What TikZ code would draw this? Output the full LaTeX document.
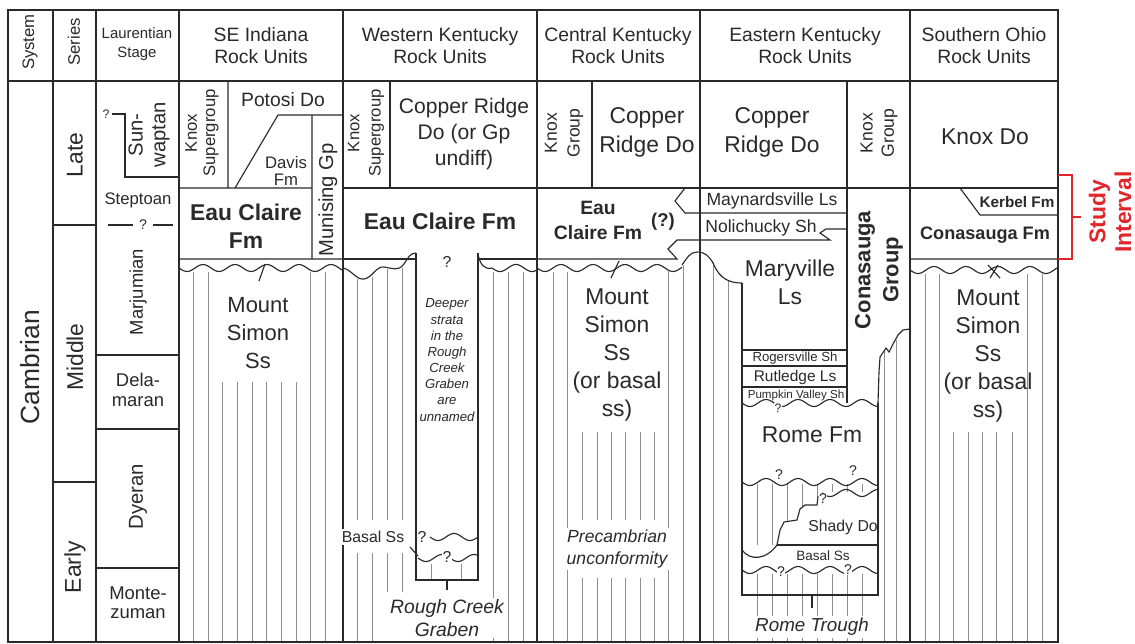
\documentclass[tikz,border=0pt]{standalone}
\usepackage{fontspec}
\setmainfont{Liberation Sans}
\usepackage{xcolor}
\definecolor{ink}{HTML}{2A2A2A}
\definecolor{sandgray}{HTML}{8E8E8E}
\definecolor{studyred}{HTML}{E0262B}
\newcommand{\fs}[2]{\fontsize{#1}{#2}\selectfont}
\newcommand{\wavyline}[3]{\draw[wav] plot[domain=#1:#2,samples=70,smooth] (\x,{#3+3.5*sin((\x-#1)*11.25)});}
\tikzset{
 frame/.style={line width=1.4pt,draw=ink},
 unit/.style={line width=0.65pt,draw=ink},
 wav/.style={line width=0.65pt,draw=ink},
 sand/.style={line width=0.5pt,draw=sandgray},
 lbl/.style={inner sep=1pt,align=center,text=ink},
 qm/.style={inner sep=0.3pt,fill=white,text=ink,font=\fs{8}{9}},
}

\begin{document}
\begin{tikzpicture}[x=0.02cm,y=-0.02cm]
\useasboundingbox (0,0) rectangle (1135,643);
\fill[white] (0,0) rectangle (1135,643);

% sandstone pattern
\foreach \x in {193,208,310,325} \draw[sand](\x,272)--(\x,642);
\foreach \x in {222,237,252,266,281,296} \draw[sand](\x,382)--(\x,642);
\foreach \x/\y in {357/279,372/277,387/269,402/268} \draw[sand](\x,\y)--(\x,520);
\foreach \x in {357,372} \draw[sand](\x,553)--(\x,642);
\foreach \x in {387,402} \draw[sand](\x,553)--(\x,592);
\foreach \x in {431,461} \draw[sand](\x,564)--(\x,580);
\foreach \x in {493,508,523} \draw[sand](\x,272)--(\x,642);
\foreach \x/\y in {553/272,567/272,668/271,683/265} \draw[sand](\x,\y)--(\x,642);
\foreach \x in {582,597,611,625,640,654} {\draw[sand](\x,432)--(\x,520);\draw[sand](\x,578)--(\x,642);}
\foreach \x/\y in {713/262,728/281,884/350,896/340} \draw[sand](\x,\y)--(\x,642);
\foreach \x in {757,772,...,862} \draw[sand](\x,574)--(\x,642);
\foreach \x/\y in {757/545,772/545,787/521,802/507,817/496,832/492,847/492,862/492} \draw[sand](\x,484)--(\x,\y);
\foreach \x in {925,939,1027,1042} \draw[sand](\x,274)--(\x,642);
\foreach \x in {953,968,982,996,1012} \draw[sand](\x,432)--(\x,642);

% frame and columns
\draw[frame](8,10) rectangle (1058,642);
\draw[frame](8,81)--(1058,81);
\foreach \x in {53,96,179,343,537,700,910} \draw[frame](\x,10)--(\x,642);

% time scale
\draw[unit](53,225)--(96,225) (53,482)--(96,482);
\draw[unit](96,355)--(179,355) (96,429)--(179,429) (96,568)--(179,568);
\draw[unit](112,114)--(125,114)--(125,177)--(179,177);
\draw[unit](108,225)--(133,225) (153,225)--(173,225);

% SE Indiana
\draw[unit](228,81)--(228,188) (278,115)--(343,115) (278,115)--(235,188) (179,188)--(312,188) (312,115)--(312,259) (179,259)--(343,259);
\wavyline{179}{343}{268}
\draw[unit](259,281)--(265,264);

% Western Kentucky
\draw[unit](390,81)--(390,188) (343,188)--(1058,188) (343,259)--(416,259) (478,259)--(537,259) (416,253)--(416,580) (478,253)--(478,580);
\draw[wav](343,268) .. controls (352,270) and (356,280) .. (364,279) .. controls (372,278) and (376,266) .. (384,267) .. controls (392,268) and (398,272) .. (404,264) .. controls (408,258) and (410,253) .. (416,253);
\draw[wav](478,254) .. controls (480,264) and (484,270) .. (492,268);
\wavyline{492}{537}{268}
\wavyline{430}{478}{537}
\draw[wav](410,547)--(418,556);
\wavyline{418}{478}{558}
\draw[unit](416,572)--(416,580)--(478,580)--(478,572) (447,580)--(447,590);

% Central Kentucky
\draw[unit](592,81)--(592,188);
\draw[unit](685,188)--(675,201)--(685,213)--(847,213);
\draw[unit](537,259)--(677,259)--(668,249)--(677,240)--(830,240)--(820,233)--(826,229)--(847,229);
\wavyline{537}{682}{268}
\draw[wav](682,265) .. controls (687,258) and (690,252) .. (697,252) .. controls (705,252) and (709,256) .. (713,263) .. controls (718,274) and (724,283) .. (742,283);
\draw[unit](611,278)--(619,261);

% Eastern Kentucky
\draw[unit](742,283)--(742,595) (847,81)--(847,403);
\draw[unit](742,350)--(847,350) (742,366)--(847,366) (742,387)--(847,387);
\wavyline{742}{878}{403}
\draw[unit](878,403)--(878,595);
\draw[unit](878,403)--(879,372)--(880,357)--(886,348)--(889,352)--(893,344)--(898,335)--(903,330)--(910,329);
\wavyline{742}{878}{482}
\draw[unit](777,545)--(780,530)--(784,522)--(797,520)--(800,509)--(805,505)--(817,505)--(818,496);
\wavyline{822}{878}{493}
\draw[unit](777,545)--(878,545);
\draw[wav](742,550) .. controls (750,561) and (766,560) .. (777,545);
\wavyline{742}{878}{570}
\draw[unit](742,582)--(742,595)--(878,595)--(878,582) (812,595)--(812,608);

% Southern Ohio
\draw[unit](910,259)--(1058,259) (960,188)--(980,215)--(1058,215);
\wavyline{910}{1058}{270}
\draw[unit](988,265)--(1000,278) (990,278)--(998,265);

% study interval
\draw[studyred,line width=1.1pt](1058,175)--(1072,175)--(1072,259)--(1058,259) (1072,217)--(1081,217);
\node[lbl,rotate=90,text=studyred,font=\fs{13}{14.7}\bfseries] (study) at (1110,212) {Study\\Interval};

% headers
\node[lbl,rotate=90,font=\fs{9.5}{10}] (hsys) at (30,42) {System};
\node[lbl,rotate=90,font=\fs{9.5}{10}] (hser) at (74,42) {Series};
\node[lbl,font=\fs{8.5}{10.8}] (hstage) at (137,44) {Laurentian\\Stage};
\node[lbl,font=\fs{11}{12.5}] (hsei) at (261,46) {SE Indiana\\Rock Units};
\node[lbl,font=\fs{11}{12.5}] (hwky) at (440,46) {Western Kentucky\\Rock Units};
\node[lbl,font=\fs{11}{12.5}] (hcky) at (618,46) {Central Kentucky\\Rock Units};
\node[lbl,font=\fs{11}{12.5}] (heky) at (805,46) {Eastern Kentucky\\Rock Units};
\node[lbl,font=\fs{11}{12.5}] (hsoh) at (984,46) {Southern Ohio\\Rock Units};

% system, series, stages
\node[lbl,rotate=90,font=\fs{15}{17}] (sysCam) at (30,367) {Cambrian};
\node[lbl,rotate=90,font=\fs{13}{15}] (serLate) at (75,155) {Late};
\node[lbl,rotate=90,font=\fs{13}{15}] (serMid) at (75,357) {Middle};
\node[lbl,rotate=90,font=\fs{13}{15}] (serEarly) at (75,567) {Early};
\node[qm,font=\fs{7}{8}] (qSun) at (106,114) {?};
\node[lbl,rotate=90,font=\fs{11.5}{13}] (stSun) at (149,135) {Sun-\\waptan};
\node[lbl,font=\fs{9.5}{11}] (stStep) at (138,200) {Steptoan};
\node[qm] (qStep) at (143,225) {?};
\node[lbl,rotate=90,font=\fs{10.5}{12}] (stMarj) at (138,292) {Marjumian};
\node[lbl,font=\fs{10.5}{11.5}] (stDela) at (138,390) {Dela-\\maran};
\node[lbl,rotate=90,font=\fs{11.5}{13}] (stDyer) at (138,497) {Dyeran};
\node[lbl,font=\fs{10.5}{11}] (stMont) at (138,603) {Monte-\\zuman};

% SE Indiana units
\node[lbl,rotate=90,font=\fs{9.5}{10.5}] (seiKnox) at (202,133) {Knox\\Supergroup};
\node[lbl,font=\fs{11}{12}] (seiPot) at (283,100) {Potosi Do};
\node[lbl,font=\fs{9.5}{9.5}] (seiDav) at (286,171) {Davis\\Fm};
\node[lbl,rotate=90,font=\fs{11.5}{13}] (seiMun) at (328,200) {Munising Gp};
\node[lbl,font=\fs{13}{16}\bfseries] (seiEau) at (246,226) {Eau Claire\\Fm};
\node[lbl,font=\fs{12.5}{16}] (seiMS) at (258,333) {Mount\\Simon\\Ss};

% Western Kentucky units
\node[lbl,rotate=90,font=\fs{9.5}{12}] (wkyKnox) at (366,133) {Knox\\Supergroup};
\node[lbl,font=\fs{12}{14.7}] (wkyCR) at (464,134) {Copper Ridge\\Do (or Gp\\undiff)};
\node[lbl,font=\fs{13}{15}\bfseries] (wkyEau) at (440,221) {Eau Claire Fm};
\node[qm,font=\fs{9}{10}] (wkyQ) at (447,262) {?};
\node[lbl,font=\fs{7.5}{9.2}\itshape] (wkyDeep) at (447,360) {Deeper\\strata\\in the\\Rough\\Creek\\Graben\\are\\unnamed};
\node[lbl,fill=white,font=\fs{9}{10}] (wkyBasal) at (373,537) {Basal Ss};
\node[qm,font=\fs{9}{10}] (wkyQ2) at (422,537) {?};
\node[qm,font=\fs{9}{10}] (wkyQ3) at (447,557) {?};
\node[lbl,fill=white,font=\fs{11}{13}\itshape] (wkyRCG) at (447,618) {Rough Creek\\Graben};

% Central Kentucky units
\node[lbl,rotate=90,font=\fs{10}{13}] (ckyKnox) at (564,133) {Knox\\Group};
\node[lbl,font=\fs{13}{16.5}] (ckyCR) at (647,132) {Copper\\Ridge Do};
\node[lbl,font=\fs{11}{14.2}\bfseries] (ckyEau) at (598,220) {Eau\\Claire Fm};
\node[lbl,font=\fs{10.5}{12}\bfseries] (ckyQ) at (663,222) {(?)};
\node[lbl,font=\fs{13}{16}] (ckyMS) at (617,355) {Mount\\Simon\\Ss\\(or basal\\ss)};
\node[lbl,fill=white,font=\fs{10}{12.5}\itshape] (ckyPre) at (617,549) {Precambrian\\unconformity};

% Eastern Kentucky units
\node[lbl,font=\fs{13}{16.5}] (ekyCR) at (772,132) {Copper\\Ridge Do};
\node[lbl,rotate=90,font=\fs{10}{12}] (ekyKnox) at (879,133) {Knox\\Group};
\node[lbl,font=\fs{10}{11}] (ekyMay) at (772,201) {Maynardsville Ls};
\node[lbl,font=\fs{10}{11}] (ekyNol) at (761,228) {Nolichucky Sh};
\node[lbl,font=\fs{13}{16}] (ekyMary) at (790,282) {Maryville\\Ls};
\node[lbl,rotate=90,font=\fs{12.5}{16}\bfseries] (ekyCon) at (879,270) {Conasauga\\Group};
\node[lbl,font=\fs{7.5}{8}] (ekyRog) at (795,358) {Rogersville Sh};
\node[lbl,font=\fs{8.8}{9}] (ekyRut) at (795,377) {Rutledge Ls};
\node[lbl,font=\fs{6.6}{7}] (ekyPum) at (796,395) {Pumpkin Valley Sh};
\node[qm,font=\fs{7}{8}] (ekyQ1) at (778,408) {?};
\node[lbl,font=\fs{13}{15}] (ekyRome) at (812,435) {Rome Fm};
\node[qm] (ekyQ2) at (779,475) {?};
\node[qm] (ekyQ3) at (853,471) {?};
\node[qm] (ekyQ4) at (823,499) {?};
\node[lbl,font=\fs{9}{10}] (ekyShady) at (843,527) {Shady Do};
\node[lbl,font=\fs{7.7}{8}] (ekyBasal) at (823,556) {Basal Ss};
\node[qm] (ekyQ5) at (781,572) {?};
\node[qm] (ekyQ6) at (848,570) {?};
\node[lbl,fill=white,font=\fs{10.7}{12}\itshape] (ekyRT) at (812,627) {Rome Trough};

% Southern Ohio units
\node[lbl,font=\fs{13}{15}] (sohKnox) at (985,137) {Knox Do};
\node[lbl,font=\fs{8.7}{10}\bfseries] (sohKer) at (1017,202) {Kerbel Fm};
\node[lbl,font=\fs{10.3}{12}\bfseries] (sohCon) at (985,235) {Conasauga Fm};
\node[lbl,font=\fs{13}{16}] (sohMS) at (988,356) {Mount\\Simon\\Ss\\(or basal\\ss)};
\end{tikzpicture}
\end{document}
